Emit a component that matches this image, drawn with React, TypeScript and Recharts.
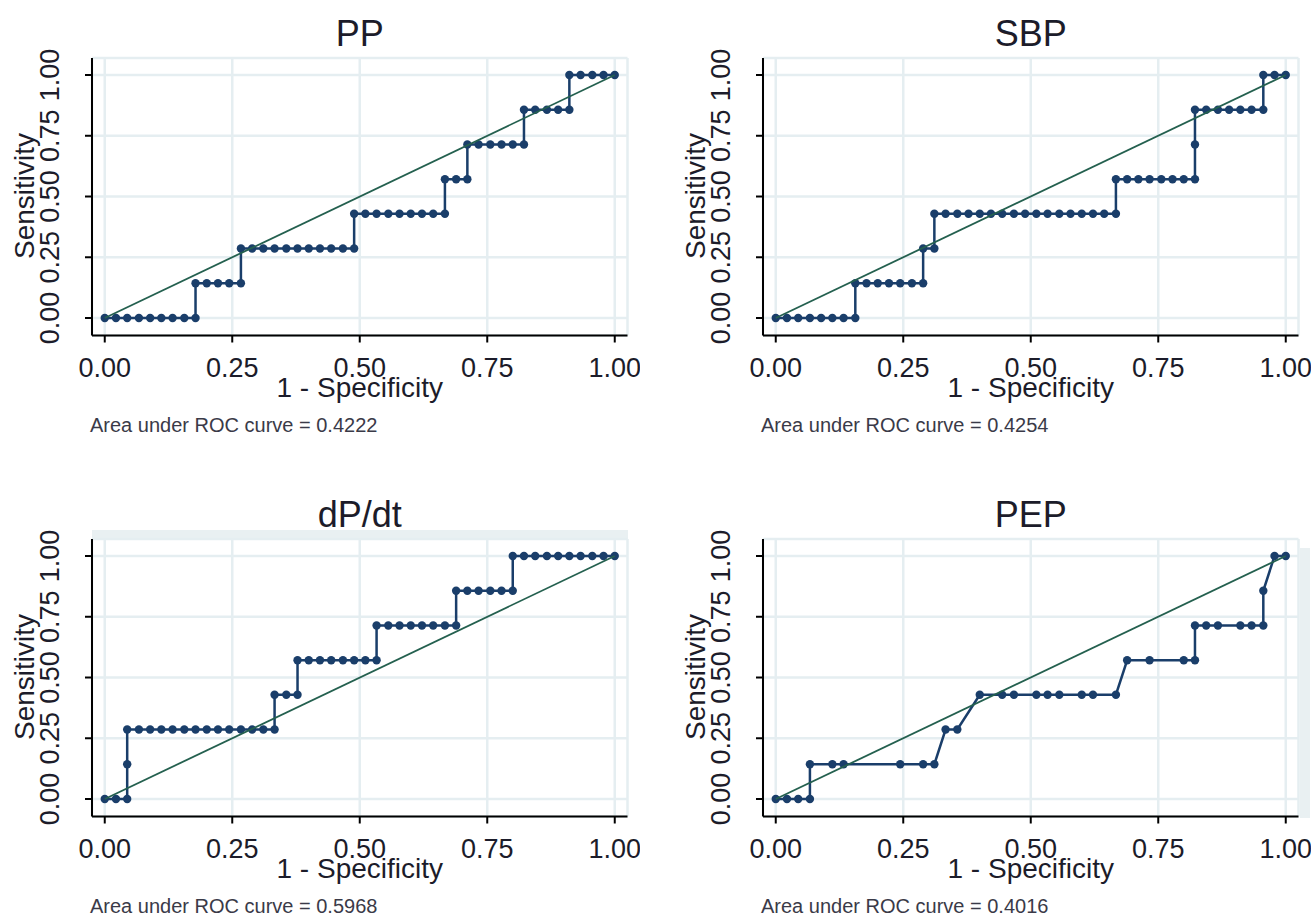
import React from 'react';
import { ScatterChart, Scatter, XAxis, YAxis, CartesianGrid } from 'recharts';

// axis ticks shared by all four panels
const tickValues = [0, 0.25, 0.5, 0.75, 1];
const tickLabels = ['0.00', '0.25', '0.50', '0.75', '1.00'];

// chance line
const refX = [0, 1];
const refY = [0, 1];

// PP
const ppFpr = [
  0, 0.022, 0.044, 0.067, 0.089, 0.111, 0.133, 0.156, 0.178,
  0.178, 0.2, 0.222, 0.244, 0.267,
  0.267, 0.289, 0.311, 0.333, 0.356, 0.378, 0.4, 0.422, 0.444, 0.467, 0.489,
  0.489, 0.511, 0.533, 0.556, 0.578, 0.6, 0.622, 0.644, 0.667,
  0.667, 0.689, 0.711,
  0.711, 0.733, 0.756, 0.778, 0.8, 0.822,
  0.822, 0.844, 0.867, 0.889, 0.911,
  0.911, 0.933, 0.956, 0.978, 1,
];
const ppTpr = [
  0, 0, 0, 0, 0, 0, 0, 0, 0,
  0.143, 0.143, 0.143, 0.143, 0.143,
  0.286, 0.286, 0.286, 0.286, 0.286, 0.286, 0.286, 0.286, 0.286, 0.286, 0.286,
  0.429, 0.429, 0.429, 0.429, 0.429, 0.429, 0.429, 0.429, 0.429,
  0.571, 0.571, 0.571,
  0.714, 0.714, 0.714, 0.714, 0.714, 0.714,
  0.857, 0.857, 0.857, 0.857, 0.857,
  1, 1, 1, 1, 1,
];

// SBP
const sbpFpr = [
  0, 0.022, 0.044, 0.067, 0.089, 0.111, 0.133, 0.156,
  0.156, 0.178, 0.2, 0.222, 0.244, 0.267, 0.289,
  0.289, 0.311,
  0.311, 0.333, 0.356, 0.378, 0.4, 0.422, 0.444, 0.467, 0.489, 0.511, 0.533, 0.556, 0.578, 0.6, 0.622, 0.644, 0.667,
  0.667, 0.689, 0.711, 0.733, 0.756, 0.778, 0.8, 0.822,
  0.822,
  0.822, 0.844, 0.867, 0.889, 0.911, 0.933, 0.956,
  0.956, 0.978, 1,
];
const sbpTpr = [
  0, 0, 0, 0, 0, 0, 0, 0,
  0.143, 0.143, 0.143, 0.143, 0.143, 0.143, 0.143,
  0.286, 0.286,
  0.429, 0.429, 0.429, 0.429, 0.429, 0.429, 0.429, 0.429, 0.429, 0.429, 0.429, 0.429, 0.429, 0.429, 0.429, 0.429, 0.429,
  0.571, 0.571, 0.571, 0.571, 0.571, 0.571, 0.571, 0.571,
  0.714,
  0.857, 0.857, 0.857, 0.857, 0.857, 0.857, 0.857,
  1, 1, 1,
];

// dP/dt
const dpdtFpr = [
  0, 0.022, 0.044,
  0.044,
  0.044, 0.067, 0.089, 0.111, 0.133, 0.156, 0.178, 0.2, 0.222, 0.244, 0.267, 0.289, 0.311, 0.333,
  0.333, 0.356, 0.378,
  0.378, 0.4, 0.422, 0.444, 0.467, 0.489, 0.511, 0.533,
  0.533, 0.556, 0.578, 0.6, 0.622, 0.644, 0.667, 0.689,
  0.689, 0.711, 0.733, 0.756, 0.778, 0.8,
  0.8, 0.822, 0.844, 0.867, 0.889, 0.911, 0.933, 0.956, 0.978, 1,
];
const dpdtTpr = [
  0, 0, 0,
  0.143,
  0.286, 0.286, 0.286, 0.286, 0.286, 0.286, 0.286, 0.286, 0.286, 0.286, 0.286, 0.286, 0.286, 0.286,
  0.429, 0.429, 0.429,
  0.571, 0.571, 0.571, 0.571, 0.571, 0.571, 0.571, 0.571,
  0.714, 0.714, 0.714, 0.714, 0.714, 0.714, 0.714, 0.714,
  0.857, 0.857, 0.857, 0.857, 0.857, 0.857,
  1, 1, 1, 1, 1, 1, 1, 1, 1, 1,
];

// PEP
const pepFpr = [
  0, 0.022, 0.044, 0.067,
  0.067, 0.111, 0.133, 0.244, 0.289, 0.311,
  0.333, 0.356,
  0.4, 0.444, 0.467, 0.511, 0.533, 0.556, 0.6, 0.622, 0.667,
  0.689, 0.733, 0.8, 0.822,
  0.822, 0.844, 0.867, 0.911, 0.933, 0.956,
  0.956,
  0.978, 1,
];
const pepTpr = [
  0, 0, 0, 0,
  0.143, 0.143, 0.143, 0.143, 0.143, 0.143,
  0.286, 0.286,
  0.429, 0.429, 0.429, 0.429, 0.429, 0.429, 0.429, 0.429, 0.429,
  0.571, 0.571, 0.571, 0.571,
  0.714, 0.714, 0.714, 0.714, 0.714, 0.714,
  0.857,
  1, 1,
];

const FONT = '"Liberation Sans", Arial, Helvetica, sans-serif';
const NAVY = '#1a3e6a';
const GREEN = '#24604f';
const GRID = '#e5eef1';
const TEXT = '#1c1c2a';

const W = 640;
const H = 440;
const LEFT = 92;
const TOP = 58;
const PLOT_W = 535.5;
const PLOT_H = 277.5;
const XAXIS_H = 40;

const toPoints = (xs: number[], ys: number[]) => xs.map((x, i) => ({ x, y: ys[i] }));

const YTick = (props: any) => {
  const { x, y, payload } = props;
  const label = tickLabels[tickValues.indexOf(payload.value)];
  return (
    <text
      x={x}
      y={y}
      transform={`rotate(-90 ${x} ${y})`}
      textAnchor="middle"
      fontSize={27}
      fontFamily={FONT}
      fill={TEXT}
    >
      {label}
    </text>
  );
};

interface PanelProps {
  title: string;
  fpr: number[];
  tpr: number[];
  auc: string;
  left: number;
  top: number;
}

const RocPanel: React.FC<PanelProps> = ({ title, fpr, tpr, auc, left, top }) => {
  const curve = toPoints(fpr, tpr);
  const chance = toPoints(refX, refY);
  const cx = LEFT + PLOT_W / 2;

  return (
    <div style={{ position: 'absolute', left, top, width: W, height: H }}>
      <ScatterChart
        width={W}
        height={H}
        margin={{ top: TOP, right: W - LEFT - PLOT_W, bottom: H - TOP - PLOT_H - XAXIS_H, left: 0 }}
      >
        <CartesianGrid stroke={GRID} strokeWidth={2.5} />
        <XAxis
          type="number"
          dataKey="x"
          domain={[-0.025, 1.025]}
          ticks={tickValues}
          tickFormatter={(v: number) => tickLabels[tickValues.indexOf(v)]}
          height={XAXIS_H}
          axisLine={{ stroke: '#000', strokeWidth: 2 }}
          tickLine={{ stroke: '#000', strokeWidth: 2 }}
          tickSize={7}
          tickMargin={15}
          tick={{ fontSize: 27, fontFamily: FONT, fill: TEXT }}
          interval={0}
        />
        <YAxis
          type="number"
          dataKey="y"
          domain={[-0.072, 1.07]}
          ticks={tickValues}
          width={LEFT}
          axisLine={{ stroke: '#000', strokeWidth: 2 }}
          tickLine={{ stroke: '#000', strokeWidth: 2 }}
          tickSize={7}
          tickMargin={26}
          tick={<YTick />}
          interval={0}
        />
        <Scatter
          data={curve}
          line={{ stroke: NAVY, strokeWidth: 2.5 }}
          lineType="joint"
          shape={(p: any) => <circle cx={p.cx} cy={p.cy} r={4.2} fill={NAVY} />}
          isAnimationActive={false}
        />
        <Scatter
          data={chance}
          line={{ stroke: GREEN, strokeWidth: 1.8 }}
          lineType="joint"
          shape={() => <g />}
          isAnimationActive={false}
        />
      </ScatterChart>
      <svg
        width={W}
        height={H}
        style={{ position: 'absolute', left: 0, top: 0, pointerEvents: 'none' }}
      >
        <text x={cx} y={46} textAnchor="middle" fontSize={36} fontFamily={FONT} fill={TEXT}>
          {title}
        </text>
        <text x={cx} y={397} textAnchor="middle" fontSize={28} fontFamily={FONT} fill={TEXT}>
          1 - Specificity
        </text>
        <text
          x={34}
          y={196}
          transform="rotate(-90 34 196)"
          textAnchor="middle"
          fontSize={28}
          fontFamily={FONT}
          fill={TEXT}
        >
          Sensitivity
        </text>
        <text x={90} y={432} fontSize={20} fontFamily={FONT} fill="#3a3a48">
          {auc}
        </text>
      </svg>
    </div>
  );
};

export default function App() {
  return (
    <div
      style={{
        position: 'fixed',
        left: 0,
        top: 0,
        width: 1312,
        height: 917,
        background: '#fff',
        overflow: 'hidden',
      }}
    >
      {/* faint background strips seen in the source image */}
      <div style={{ position: 'absolute', left: 92, top: 530, width: 536, height: 10, background: '#e9f0f2' }} />
      <div style={{ position: 'absolute', left: 1300, top: 548, width: 10, height: 270, background: '#e9f0f2' }} />
      <RocPanel title="PP" fpr={ppFpr} tpr={ppTpr} auc="Area under ROC curve = 0.4222" left={0} top={0} />
      <RocPanel title="SBP" fpr={sbpFpr} tpr={sbpTpr} auc="Area under ROC curve = 0.4254" left={671} top={0} />
      <RocPanel title="dP/dt" fpr={dpdtFpr} tpr={dpdtTpr} auc="Area under ROC curve = 0.5968" left={0} top={481} />
      <RocPanel title="PEP" fpr={pepFpr} tpr={pepTpr} auc="Area under ROC curve = 0.4016" left={671} top={481} />
    </div>
  );
}
